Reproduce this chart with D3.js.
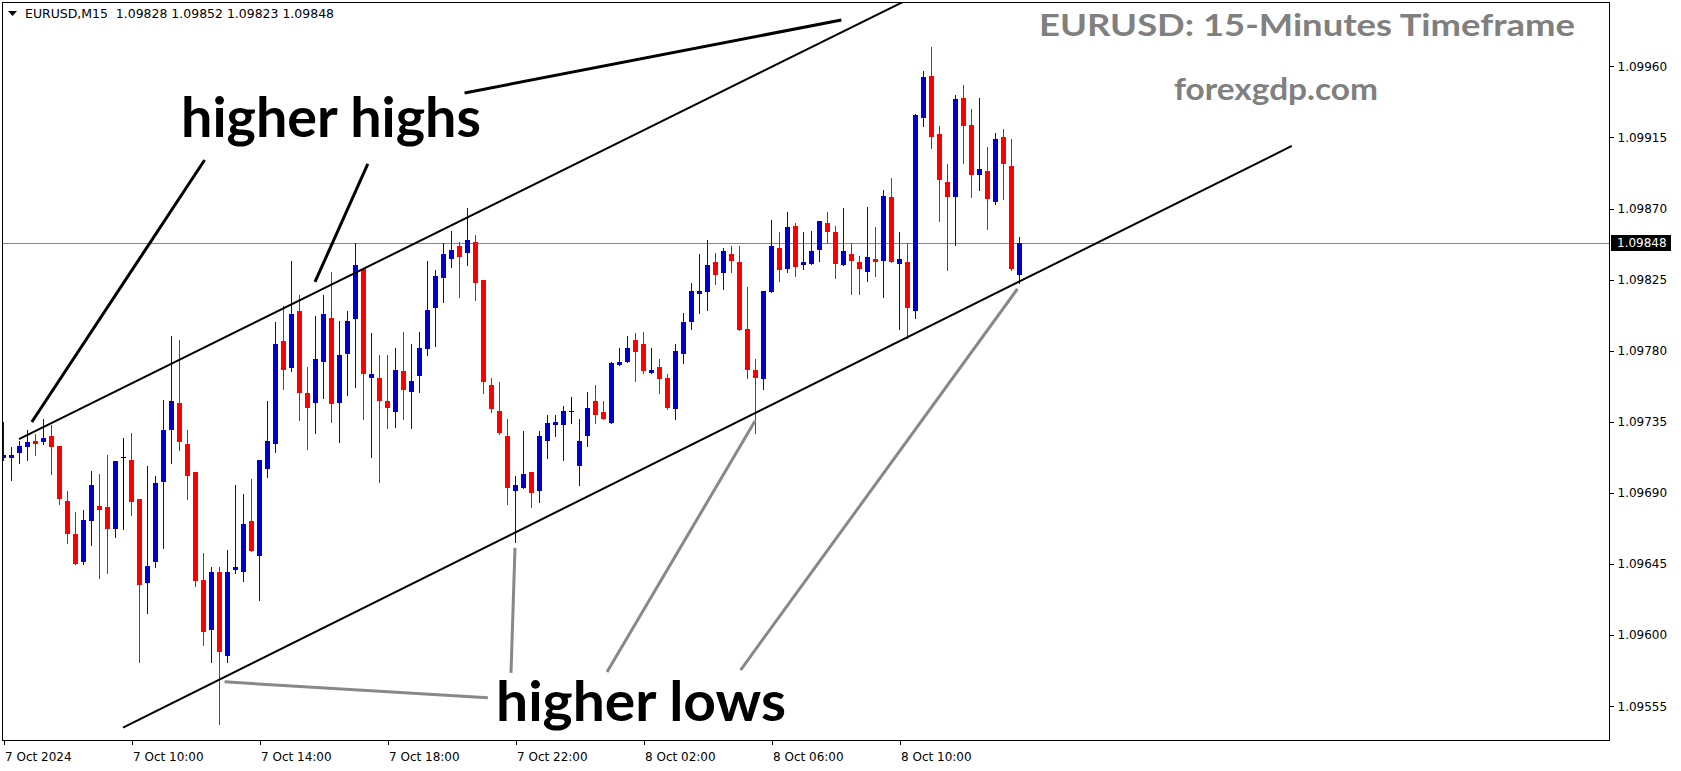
<!DOCTYPE html>
<html>
<head>
<meta charset="utf-8">
<script src="https://cdn.jsdelivr.net/npm/d3@7"></script>
<style>
html,body{margin:0;padding:0;background:#fff;}
svg{display:block;}
</style>
</head>
<body>
<script>
// ---------------- DATA ----------------
const symbolHeader = "EURUSD,M15  1.09828 1.09852 1.09823 1.09848";
const xTickIndex = [0, 16, 32, 48, 64, 80, 96, 112];
const xTickLabels = ["7 Oct 2024", "7 Oct 10:00", "7 Oct 14:00", "7 Oct 18:00", "7 Oct 22:00", "8 Oct 02:00", "8 Oct 06:00", "8 Oct 10:00"];
const yTickValues = [1.09960, 1.09915, 1.09870, 1.09825, 1.09780, 1.09735, 1.09690, 1.09645, 1.09600, 1.09555];
const lastPrice = 1.09848;

const open = [
1.09712,1.09712,1.09715,1.09719,1.09723,1.09722,1.09726,1.09720,1.09685,1.09664,
1.09646,1.09672,1.09682,1.09681,1.09667,1.09713,1.09711,1.09686,1.09633,1.09646,
1.09697,1.09730,1.09747,1.09721,1.09703,1.09635,1.09603,1.09640,1.09587,1.09641,
1.09640,1.09672,1.09650,1.09705,1.09721,1.09786,1.09769,1.09805,1.09753,1.09747,
1.09773,1.09801,1.09747,1.09778,1.09800,1.09832,1.09763,1.09763,1.09748,1.09741,
1.09767,1.09754,1.09764,1.09781,1.09807,1.09826,1.09838,1.09846,1.09842,1.09849,
1.09825,1.09758,1.09742,1.09726,1.09691,1.09693,1.09703,1.09691,1.09723,1.09733,
1.09733,1.09742,1.09707,1.09726,1.09748,1.09741,1.09734,1.09771,1.09773,1.09787,
1.09784,1.09766,1.09770,1.09763,1.09743,1.09778,1.09798,1.09816,1.09817,1.09836,
1.09829,1.09841,1.09836,1.09794,1.09768,1.09762,1.09817,1.09845,1.09832,1.09859,
1.09834,1.09835,1.09844,1.09861,1.09855,1.09834,1.09841,1.09836,1.09830,1.09838,
1.09837,1.09877,1.09835,1.09836,1.09805,1.09927,1.09954,1.09917,1.09887,1.09877,
1.09940,1.09923,1.09891,1.09894,1.09874,1.09915,1.09897,1.09828];

const high = [
1.09735,1.09719,1.09723,1.09730,1.09727,1.09737,1.09733,1.09720,1.09691,1.09678,
1.09679,1.09704,1.09702,1.09714,1.09710,1.09725,1.09728,1.09686,1.09707,1.09701,
1.09749,1.09789,1.09787,1.09730,1.09703,1.09652,1.09643,1.09643,1.09654,1.09695,
1.09689,1.09699,1.09711,1.09748,1.09798,1.09808,1.09837,1.09815,1.09770,1.09802,
1.09815,1.09830,1.09799,1.09805,1.09848,1.09832,1.09791,1.09777,1.09777,1.09782,
1.09792,1.09784,1.09792,1.09837,1.09831,1.09848,1.09856,1.09849,1.09870,1.09853,
1.09825,1.09763,1.09760,1.09737,1.09701,1.09729,1.09703,1.09729,1.09739,1.09739,
1.09745,1.09751,1.09737,1.09754,1.09758,1.09748,1.09773,1.09782,1.09789,1.09791,
1.09792,1.09782,1.09775,1.09765,1.09784,1.09804,1.09823,1.09841,1.09850,1.09842,
1.09845,1.09846,1.09846,1.09820,1.09775,1.09818,1.09863,1.09855,1.09868,1.09861,
1.09855,1.09856,1.09862,1.09868,1.09859,1.09870,1.09848,1.09840,1.09871,1.09858,
1.09882,1.09889,1.09855,1.09848,1.09930,1.09957,1.09972,1.09922,1.09898,1.09942,
1.09948,1.09933,1.09940,1.09909,1.09918,1.09920,1.09914,1.09852];

const low = [
1.09711,1.09698,1.09709,1.09711,1.09714,1.09721,1.09702,1.09683,1.09658,1.09645,
1.09645,1.09657,1.09636,1.09639,1.09662,1.09667,1.09676,1.09583,1.09614,1.09643,
1.09655,1.09709,1.09717,1.09686,1.09631,1.09594,1.09583,1.09544,1.09583,1.09639,
1.09634,1.09653,1.09622,1.09700,1.09716,1.09756,1.09767,1.09736,1.09718,1.09728,
1.09750,1.09735,1.09722,1.09752,1.09757,1.09737,1.09713,1.09697,1.09731,1.09732,
1.09737,1.09731,1.09754,1.09777,1.09783,1.09811,1.09833,1.09814,1.09834,1.09812,
1.09753,1.09741,1.09727,1.09683,1.09659,1.09693,1.09681,1.09684,1.09712,1.09726,
1.09711,1.09734,1.09695,1.09720,1.09734,1.09737,1.09734,1.09771,1.09773,1.09761,
1.09766,1.09766,1.09753,1.09743,1.09737,1.09772,1.09794,1.09804,1.09806,1.09822,
1.09819,1.09830,1.09793,1.09763,1.09728,1.09756,1.09817,1.09824,1.09830,1.09827,
1.09832,1.09835,1.09837,1.09848,1.09826,1.09834,1.09816,1.09816,1.09824,1.09827,
1.09814,1.09836,1.09794,1.09788,1.09801,1.09922,1.09908,1.09862,1.09831,1.09847,
1.09899,1.09877,1.09882,1.09857,1.09873,1.09876,1.09831,1.09823];

const close = [
1.09714,1.09714,1.09720,1.09722,1.09721,1.09725,1.09719,1.09686,1.09664,1.09645,
1.09673,1.09695,1.09679,1.09667,1.09710,1.09713,1.09684,1.09632,1.09644,1.09696,
1.09730,1.09748,1.09722,1.09701,1.09634,1.09602,1.09640,1.09589,1.09640,1.09643,
1.09670,1.09653,1.09711,1.09723,1.09784,1.09768,1.09803,1.09753,1.09744,1.09775,
1.09803,1.09746,1.09777,1.09799,1.09834,1.09765,1.09765,1.09748,1.09744,1.09768,
1.09755,1.09761,1.09782,1.09806,1.09827,1.09841,1.09844,1.09839,1.09850,1.09823,
1.09760,1.09743,1.09728,1.09693,1.09695,1.09702,1.09690,1.09726,1.09734,1.09735,
1.09742,1.09742,1.09723,1.09744,1.09739,1.09737,1.09772,1.09773,1.09782,1.09779,
1.09767,1.09768,1.09762,1.09744,1.09780,1.09798,1.09818,1.09818,1.09834,1.09828,
1.09843,1.09837,1.09793,1.09768,1.09763,1.09818,1.09846,1.09831,1.09858,1.09833,
1.09836,1.09843,1.09862,1.09855,1.09835,1.09843,1.09837,1.09832,1.09839,1.09836,
1.09878,1.09836,1.09838,1.09807,1.09929,1.09953,1.09915,1.09888,1.09877,1.09939,
1.09922,1.09891,1.09895,1.09876,1.09914,1.09898,1.09832,1.09848];

// trend lines / pointers as [barIndex, price] pairs
const upperChannel = [[2.0, 1.097240], [113.0, 1.100020]];
const lowerChannel = [[15.0, 1.095414], [161.1, 1.099096]];
const highPointers = [
  [[25.2, 1.099007], [3.6, 1.097349]],
  [[45.6, 1.098982], [39.0, 1.098235]],
  [[57.7, 1.099431], [104.8, 1.099893]]
];
const lowPointers = [
  [[27.7, 1.095704], [60.6, 1.095603]],
  [[64.0, 1.096552], [63.5, 1.095761]],
  [[94.0, 1.097355], [75.5, 1.095766]],
  [[126.8, 1.098191], [92.2, 1.095779]]
];

// ---------------- LAYOUT ----------------
const W = 1681, H = 771;
const plot = {x0: 2, y0: 2, x1: 1609, y1: 740};
const BLUE = "#0000CD", RED = "#FF0000";

const svg = d3.select("body").append("svg").attr("width", W).attr("height", H)
  .style("font-family", "'DejaVu Sans', sans-serif");

const xs = d3.scaleLinear().domain([0, 127]).range([3, 1019]);
const ys = d3.scaleLinear().domain([1.09960, 1.09555]).range([66.3, 706.2]);

svg.append("defs").append("clipPath").attr("id", "clip")
  .append("rect").attr("x", plot.x0).attr("y", plot.y0)
  .attr("width", plot.x1 - plot.x0).attr("height", plot.y1 - plot.y0);

const g = svg.append("g").attr("clip-path", "url(#clip)");

// current price line
g.append("line")
  .attr("x1", plot.x0).attr("x2", plot.x1)
  .attr("y1", Math.round(ys(lastPrice)) + 0.5).attr("y2", Math.round(ys(lastPrice)) + 0.5)
  .attr("stroke", "#778899").attr("stroke-width", 1);

// candles
const bars = d3.range(open.length).map(i => ({i, o: open[i], h: high[i], l: low[i], c: close[i]}));
const col = d => d.c > d.o ? BLUE : (d.c < d.o ? RED : "#000000");

const cg = g.append("g").attr("shape-rendering", "crispEdges");
cg.selectAll("rect.wick").data(bars).enter().append("rect")
  .attr("class", "wick")
  .attr("x", d => Math.round(xs(d.i)))
  .attr("y", d => Math.round(ys(d.h)))
  .attr("width", 1)
  .attr("height", d => Math.max(1, Math.round(ys(d.l)) - Math.round(ys(d.h)) + 1))
  .attr("fill", col);
cg.selectAll("rect.body").data(bars).enter().append("rect")
  .attr("class", "body")
  .attr("x", d => Math.round(xs(d.i)) - 2)
  .attr("y", d => Math.round(ys(Math.max(d.o, d.c))))
  .attr("width", 5)
  .attr("height", d => Math.max(1, Math.round(ys(Math.min(d.o, d.c))) - Math.round(ys(Math.max(d.o, d.c)))))
  .attr("fill", col);

// lines
const line = d3.line().x(d => xs(d[0])).y(d => ys(d[1]));
g.append("path").attr("d", line(upperChannel)).attr("stroke", "#000").attr("stroke-width", 2).attr("fill", "none");
g.append("path").attr("d", line(lowerChannel)).attr("stroke", "#000").attr("stroke-width", 2).attr("fill", "none");
highPointers.forEach(p => g.append("path").attr("d", line(p)).attr("stroke", "#000").attr("stroke-width", 3).attr("fill", "none"));
lowPointers.forEach(p => g.append("path").attr("d", line(p)).attr("stroke", "#888888").attr("stroke-width", 3).attr("fill", "none"));

// annotation texts
svg.append("text").attr("x", 181).attr("y", 137)
  .style("font-family", "Lato, 'Open Sans', sans-serif").style("font-weight", 700).style("font-size", "55px")
  .attr("textLength", 300).attr("lengthAdjust", "spacingAndGlyphs")
  .attr("fill", "#000").text("higher highs");
svg.append("text").attr("x", 496).attr("y", 721)
  .style("font-family", "Lato, 'Open Sans', sans-serif").style("font-weight", 700).style("font-size", "55px")
  .attr("textLength", 290).attr("lengthAdjust", "spacingAndGlyphs")
  .attr("fill", "#000").text("higher lows");

svg.append("text").attr("x", 1039).attr("y", 36)
  .style("font-family", "Lato, 'Open Sans', sans-serif").style("font-weight", 700).style("font-size", "31px")
  .attr("textLength", 536).attr("lengthAdjust", "spacingAndGlyphs")
  .attr("fill", "#808080").text("EURUSD: 15-Minutes Timeframe");
svg.append("text").attr("x", 1174).attr("y", 100)
  .style("font-family", "Lato, 'Open Sans', sans-serif").style("font-weight", 700).style("font-size", "31px")
  .attr("textLength", 204).attr("lengthAdjust", "spacingAndGlyphs")
  .attr("fill", "#808080").text("forexgdp.com");

// plot border
svg.append("rect").attr("x", plot.x0 + 0.5).attr("y", plot.y0 + 0.5)
  .attr("width", plot.x1 - plot.x0).attr("height", plot.y1 - plot.y0)
  .attr("fill", "none").attr("stroke", "#000").attr("stroke-width", 1)
  .attr("shape-rendering", "crispEdges");

// header
svg.append("path").attr("d", "M8,11 L17,11 L12.5,16 Z").attr("fill", "#000");
svg.append("text").attr("x", 25).attr("y", 18).style("font-size", "13px").attr("fill", "#000")
  .attr("textLength", 309).attr("lengthAdjust", "spacingAndGlyphs")
  .attr("xml:space", "preserve").style("white-space", "pre").text(symbolHeader);

// y axis
const yAxis = d3.axisRight(ys).tickValues(yTickValues).tickFormat(d3.format(".5f")).tickSize(4).tickPadding(4);
const ya = svg.append("g").attr("transform", `translate(${plot.x1 + 0.5},0)`).call(yAxis);
ya.select(".domain").remove();
ya.selectAll("text").style("font-size", "12px").style("font-family", "'DejaVu Sans', sans-serif").attr("fill", "#000");
ya.selectAll("line").attr("stroke", "#000").attr("shape-rendering", "crispEdges");

// last price label
const ly = ys(lastPrice);
svg.append("rect").attr("x", plot.x1 + 2).attr("y", Math.round(ly) - 8).attr("width", 60).attr("height", 16).attr("fill", "#000");
svg.append("text").attr("x", plot.x1 + 8).attr("y", ly).attr("dy", "0.35em")
  .style("font-size", "12px").attr("fill", "#fff").text(d3.format(".5f")(lastPrice));

// x axis
const xAxis = d3.axisBottom(xs).tickValues(xTickIndex)
  .tickFormat((d, k) => xTickLabels[k]).tickSize(4).tickPadding(8);
const xa = svg.append("g").attr("transform", `translate(0.5,${plot.y1 + 0.5})`).call(xAxis);
xa.select(".domain").remove();
xa.selectAll("line").attr("stroke", "#000").attr("shape-rendering", "crispEdges");
xa.selectAll("text").attr("text-anchor", "start").attr("x", 1)
  .style("font-size", "12px").style("font-family", "'DejaVu Sans', sans-serif").attr("fill", "#000");
</script>
</body>
</html>
